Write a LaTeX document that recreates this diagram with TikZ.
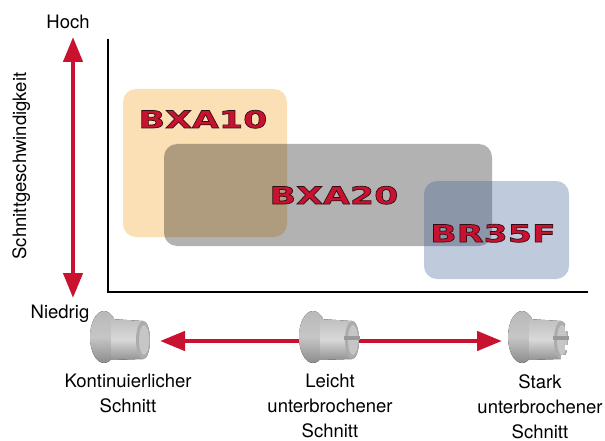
\documentclass[tikz,border=0pt]{standalone}
\usepackage{fontspec}
\setmainfont{TeX Gyre Heros}
\newfontfamily\logofont[FakeStretch=1.45]{DejaVu Sans}
\usetikzlibrary{arrows.meta}
\definecolor{cutred}{RGB}{200,18,48}
\definecolor{zoneorange}{RGB}{251,223,181}
\definecolor{zoneblue}{RGB}{63,94,151}
% red letters with a dark outline
\newcommand{\logotxt}[1]{\special{pdf:literal direct 2 Tr 0.7 w 0.2 0.05 0.08 RG}#1\special{pdf:literal direct 0 Tr}}

\begin{document}
\begin{tikzpicture}[x=1pt, y=-1pt, font=\fontsize{18.5}{25}\selectfont]
    \tikzset{zone/.style={rounded corners=13pt, inner sep=0pt},
        redarrow/.style={cutred, line width=4.5pt,
            {Triangle[length=25pt,width=19pt]}-{Triangle[length=25pt,width=19pt]}},
        logo/.style={anchor=base, inner sep=0pt, text=cutred,
            font=\logofont\bfseries\fontsize{24}{24}\selectfont},
        caption/.style={anchor=north, align=center, inner sep=0pt}}
    \useasboundingbox (0,0) rectangle (605,441);
    % speed axis
    \coordinate (hi) at (73,37);
    \coordinate (lo) at (73,298);
    \draw[redarrow] (lo) -- (hi);
    \node[anchor=base] (hoch) at (68,29) {Hoch};
    \node[anchor=base] (niedrig) at (60,318) {Niedrig};
    \node[rotate=90, anchor=base] (speed) at (26,166) {Schnittgeschwindigkeit};
    % frame
    \coordinate (ytop) at (108,39);
    \coordinate (xend) at (588,292);
    \draw[line width=1.5pt] (ytop) |- (xend);
    % grades
    \node[zone, fill=zoneorange, minimum width=164pt, minimum height=148pt] (z10) at (205,163) {};
    \node[zone, fill=black, fill opacity=0.3, minimum width=328pt, minimum height=102pt] (z20) at (328,195) {};
    \node[zone, fill=zoneblue, fill opacity=0.33, minimum width=145pt, minimum height=98pt] (z35) at (496.5,230) {};
    \node[logo] (bxa10) at (203,128) {\logotxt{BXA10}};
    \node[logo] (bxa20) at (334,204) {\logotxt{BXA20}};
    \node[logo] (br35f) at (493,242) {\logotxt{BR35F}};
    % cutting mode axis
    \coordinate (cont) at (160,341);
    \coordinate (strong) at (502,341);
    \draw[redarrow] (cont) -- (strong);
    \foreach \x/\c/\n/\txt in {121/128/1/{Kontinuierlicher\\Schnitt},
            330/330/2/{Leicht\\unterbrochener\\Schnitt},
            539/540/3/{Stark\\unterbrochener\\Schnitt}}{
        \begin{scope}[shift={(\x,337)}]
            \fill[top color=gray!55, bottom color=gray!90, middle color=gray!45] (-17,0) ellipse[x radius=14, y radius=26];
            \fill[top color=gray!50, bottom color=gray!85, middle color=gray!30]
                (-10,-18) -- (22,-16) arc[start angle=-90, end angle=90, x radius=7, y radius=19]
                -- (-10,23) -- cycle;
            \fill[gray!65] (22,3) ellipse[x radius=7, y radius=19];
            \fill[gray!45] (23,3) ellipse[x radius=5, y radius=15];
            \ifnum\n>1 \fill[gray!80] (14,-1) rectangle (30,3); \fi
            \ifnum\n=3
                \fill[white] (26,-12) rectangle (31,-6);
                \fill[white] (26,8) rectangle (31,13);
                \fill[white] (22,18) rectangle (31,24);
            \fi
        \end{scope}
        \node[caption] (mode\n) at (\c,374) {\txt};
    }
\end{tikzpicture}
\end{document}
